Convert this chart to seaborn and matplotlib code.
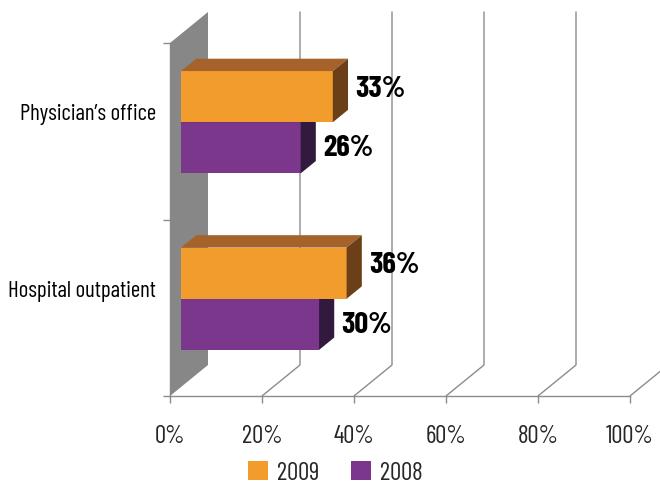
import numpy as np
import pandas as pd
import matplotlib
matplotlib.use("Agg")
import matplotlib.pyplot as plt
from matplotlib.patches import Polygon, Patch
import seaborn as sns

# ---- data ----
settings = ["Physician\u2019s office", "Hospital outpatient"]
years = ["2009", "2008"]
values_2009 = [33, 36]
values_2008 = [26, 30]
x_ticks = [0, 20, 40, 60, 80, 100]
x_tick_labels = ["0%", "20%", "40%", "60%", "80%", "100%"]

colors_front = {"2009": "#F39C2E", "2008": "#7A378B"}
colors_top = {"2009": "#A5622A", "2008": "#5A2868"}
colors_side = {"2009": "#6B3F17", "2008": "#321A3E"}
wall_color = "#878787"
grid_color = "#8C8C8C"

df = pd.DataFrame({
    "setting": settings * 2,
    "year": ["2009"] * 2 + ["2008"] * 2,
    "value": values_2009 + values_2008,
})

sns.set_theme(style="white")
plt.rcParams["font.family"] = ["Barlow Condensed", "DejaVu Sans"]

W, H = 660, 485
fig = plt.figure(figsize=(W / 100, H / 100), dpi=100)
ax_l, ax_r, ax_t, ax_b = 170, 630, 44, 397
ax = fig.add_axes([ax_l / W, (H - ax_b) / H, (ax_r - ax_l) / W, (ax_b - ax_t) / H])

sns.barplot(data=df, y="setting", x="value", hue="year", order=settings,
            hue_order=years, palette=[colors_front[y] for y in years],
            width=0.58, orient="h", saturation=1, legend=False, ax=ax)

ax.set_xlim(0, 100)
ax.set_ylim(1.5, -0.5)

# pixel -> data scale
sx = (ax_r - ax_l) / 100.0
sy = (ax_b - ax_t) / 2.0
DX = 38 / sx      # full depth of the 3D box (x)
DY = -31 / sy     # full depth (y, axis inverted so up is negative)
f0, fd = 0.29, 0.40   # bar front position and bar depth as fraction

# left wall
ax.add_patch(Polygon([(0, -0.5), (DX, -0.5 + DY), (DX, 1.5 + DY), (0, 1.5)],
                     closed=True, facecolor=wall_color, edgecolor="none",
                     zorder=1, clip_on=False))
# back wall grid lines and floor diagonals
for t in x_ticks[1:]:
    ax.plot([t, t + DX, t + DX], [1.5, 1.5 + DY, -0.5 + DY], color=grid_color,
            lw=1.0, zorder=0.5, clip_on=False)

# 3D bars
label_dy = {"2009": -8.5 / sy, "2008": 0.0}
zmap = {"2009": 4, "2008": 3}
for cont, yr in zip(ax.containers, years):
    for p, v in zip(cont.patches, cont.datavalues):
        x0, y0, w, h = p.get_x(), p.get_y(), p.get_width(), p.get_height()
        xa, ya = x0 + f0 * DX, y0 + f0 * DY
        p.set_x(xa)
        p.set_y(ya)
        p.set_zorder(zmap[yr])
        p.set_edgecolor("none")
        p.set_clip_on(False)
        ddx, ddy = fd * DX, fd * DY
        top = Polygon([(xa, ya), (xa + w, ya), (xa + w + ddx, ya + ddy), (xa + ddx, ya + ddy)],
                      closed=True, facecolor=colors_top[yr], edgecolor="none",
                      zorder=zmap[yr], clip_on=False)
        side = Polygon([(xa + w, ya), (xa + w, ya + h), (xa + w + ddx, ya + h + ddy),
                        (xa + w + ddx, ya + ddy)], closed=True,
                       facecolor=colors_side[yr], edgecolor="none",
                       zorder=zmap[yr], clip_on=False)
        ax.add_patch(top)
        ax.add_patch(side)
        ax.text(xa + w + ddx + 7 / sx, ya + h / 2 + label_dy[yr], f"{v:.0f}%",
                ha="left", va="center", fontsize=22, fontweight="bold",
                color="black", zorder=6, clip_on=False)

# axes styling
for s in ["top", "right"]:
    ax.spines[s].set_visible(False)
for s in ["left", "bottom"]:
    ax.spines[s].set_color(grid_color)
    ax.spines[s].set_linewidth(1.0)
    ax.spines[s].set_zorder(0.6)
ax.set_xticks(x_ticks)
ax.set_xticklabels(x_tick_labels, fontsize=18)
ax.set_yticks([-0.5, 0.5, 1.5])
ax.set_yticklabels([])
ax.tick_params(axis="both", which="major", length=5, width=1.0, color=grid_color,
               direction="out", left=True, bottom=True)
ax.tick_params(axis="x", pad=15)
ax.set_xlabel("")
ax.set_ylabel("")
ax.grid(False)
ax.set_facecolor("none")

for i, name in enumerate(settings):
    ax.text(-14 / (ax_r - ax_l), i - 0.1, name, transform=ax.get_yaxis_transform(),
            ha="right", va="center", fontsize=16.5, color="black")

handles = [Patch(facecolor=colors_front[y], edgecolor="none", label=y) for y in years]
fig.legend(handles=handles, loc="center", bbox_to_anchor=(0.508, 0.024), ncol=2,
           frameon=False, fontsize=18, handlelength=0.8, handleheight=0.8,
           handletextpad=0.35, columnspacing=1.3)

fig.savefig("out.png", dpi=100)
